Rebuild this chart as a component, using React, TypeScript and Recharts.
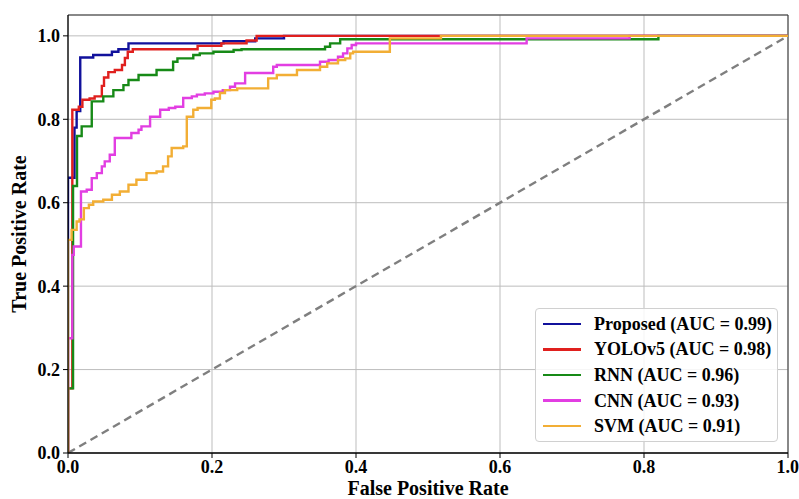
import React from 'react';
import { LineChart, Line, XAxis, YAxis, CartesianGrid, Legend, ReferenceLine } from 'recharts';

const xTicks = [0, 0.2, 0.4, 0.6, 0.8, 1.0];
const yTicks = [0, 0.2, 0.4, 0.6, 0.8, 1.0];

const proposedFpr = [0, 0, 0.009, 0.012, 0.017, 0.035, 0.061, 0.07, 0.084, 0.216, 0.26, 0.30, 1];
const proposedTpr = [0, 0.66, 0.78, 0.82, 0.948, 0.954, 0.962, 0.968, 0.982, 0.987, 0.994, 1, 1];

const yoloFpr = [0, 0, 0.006, 0.015, 0.02, 0.03, 0.037, 0.047, 0.05, 0.056, 0.065, 0.075, 0.079, 0.083, 0.09, 0.18, 0.213, 0.248, 0.262, 1];
const yoloTpr = [0, 0.155, 0.823, 0.83, 0.847, 0.85, 0.855, 0.88, 0.9, 0.913, 0.918, 0.93, 0.947, 0.962, 0.968, 0.976, 0.982, 0.989, 1, 1];

const rnnFpr = [0, 0, 0.007, 0.0125, 0.019, 0.033, 0.049, 0.063, 0.077, 0.084, 0.098, 0.123, 0.146, 0.152, 0.174, 0.183, 0.202, 0.23, 0.241, 0.357, 0.364, 0.378, 0.82, 1];
const rnnTpr = [0, 0.155, 0.64, 0.76, 0.783, 0.843, 0.855, 0.87, 0.882, 0.894, 0.906, 0.918, 0.938, 0.946, 0.954, 0.958, 0.962, 0.966, 0.968, 0.974, 0.982, 0.992, 1, 1];

const cnnFpr = [0, 0, 0.006, 0.008, 0.018, 0.026, 0.033, 0.04, 0.047, 0.051, 0.058, 0.065, 0.088, 0.098, 0.102, 0.114, 0.128, 0.14, 0.149, 0.16, 0.172, 0.179, 0.19, 0.202, 0.215, 0.225, 0.232, 0.246, 0.285, 0.29, 0.35, 0.362, 0.375, 0.382, 0.388, 0.394, 0.4, 0.637, 0.78, 1];
const cnnTpr = [0, 0.275, 0.475, 0.495, 0.627, 0.631, 0.659, 0.671, 0.687, 0.699, 0.715, 0.755, 0.767, 0.775, 0.783, 0.806, 0.823, 0.827, 0.83, 0.851, 0.855, 0.859, 0.862, 0.866, 0.87, 0.878, 0.886, 0.911, 0.926, 0.93, 0.938, 0.942, 0.95, 0.958, 0.97, 0.978, 0.982, 0.994, 1, 1];

const svmFpr = [0, 0, 0.005, 0.012, 0.016, 0.022, 0.029, 0.035, 0.049, 0.061, 0.072, 0.084, 0.095, 0.109, 0.123, 0.132, 0.139, 0.144, 0.16, 0.165, 0.174, 0.18, 0.199, 0.204, 0.211, 0.218, 0.235, 0.278, 0.29, 0.318, 0.35, 0.36, 0.375, 0.385, 0.392, 0.396, 0.447, 0.518, 1];
const svmTpr = [0, 0.511, 0.535, 0.555, 0.56, 0.587, 0.595, 0.603, 0.607, 0.619, 0.627, 0.643, 0.655, 0.671, 0.675, 0.687, 0.711, 0.731, 0.735, 0.806, 0.823, 0.827, 0.847, 0.85, 0.863, 0.87, 0.874, 0.898, 0.906, 0.918, 0.926, 0.934, 0.942, 0.946, 0.958, 0.962, 0.994, 1, 1];

const diagFpr = [0, 1];
const diagTpr = [0, 1];

const toPoints = (xs: number[], ys: number[]) => xs.map((x, i) => ({ x, y: ys[i] }));

const series = [
  { name: 'Proposed (AUC = 0.99)', color: '#11119c', data: toPoints(proposedFpr, proposedTpr) },
  { name: 'YOLOv5 (AUC = 0.98)', color: '#e0201e', data: toPoints(yoloFpr, yoloTpr) },
  { name: 'RNN (AUC = 0.96)', color: '#178a17', data: toPoints(rnnFpr, rnnTpr) },
  { name: 'CNN (AUC = 0.93)', color: '#e23ee2', data: toPoints(cnnFpr, cnnTpr) },
  { name: 'SVM (AUC = 0.91)', color: '#f2ae35', data: toPoints(svmFpr, svmTpr) },
];

const FONT = '"Liberation Serif", "Times New Roman", serif';
const tickStyle = { fill: '#000', fontSize: 18, fontWeight: 'bold' as const, fontFamily: FONT };

const LegendBox = () => (
  <div
    style={{
      boxSizing: 'border-box',
      width: 243,
      height: 134,
      border: '1px solid #d0d0d0',
      borderRadius: 4,
      background: 'rgba(255,255,255,0.85)',
      paddingTop: 2,
      fontFamily: FONT,
      fontWeight: 'bold',
      fontSize: 18,
      color: '#000',
    }}
  >
    {series.map((s) => (
      <div key={s.name} style={{ display: 'flex', alignItems: 'center', height: 25.6 }}>
        <div style={{ width: 38, height: 2.5, background: s.color, marginLeft: 7, marginRight: 13 }} />
        <span style={{ lineHeight: 1, whiteSpace: 'nowrap' }}>{s.name}</span>
      </div>
    ))}
  </div>
);

const YLabel = (props: any) => {
  const vb = props.viewBox || { x: 0, y: 15, width: 68, height: 438 };
  const cx = vb.x + 26;
  const cy = vb.y + vb.height / 2;
  return (
    <text
      x={cx}
      y={cy}
      transform={`rotate(-90, ${cx}, ${cy})`}
      textAnchor="middle"
      fill="#000"
      fontSize={20}
      fontWeight="bold"
      fontFamily={FONT}
    >
      True Positive Rate
    </text>
  );
};

export default function App() {
  return (
    <div style={{ position: 'absolute', left: 0, top: 0, background: '#fff' }}>
      <LineChart width={799} height={499} margin={{ top: 15, right: 11, left: 0, bottom: 0 }}>
        <CartesianGrid stroke="#bdbdbd" strokeWidth={1} />
        <XAxis
          type="number"
          dataKey="x"
          domain={[0, 1]}
          ticks={xTicks}
          allowDataOverflow
          height={46}
          tickFormatter={(v: number) => v.toFixed(1)}
          tick={tickStyle}
          tickSize={5}
          tickMargin={2}
          axisLine={{ stroke: '#000', strokeWidth: 1.3 }}
          tickLine={{ stroke: '#000' }}
          label={{ value: 'False Positive Rate', position: 'insideBottom', offset: 4, fill: '#000', fontSize: 20, fontWeight: 'bold', fontFamily: FONT }}
        />
        <YAxis
          type="number"
          dataKey="y"
          domain={[0, 1.05]}
          ticks={yTicks}
          allowDataOverflow
          width={68}
          tickFormatter={(v: number) => v.toFixed(1)}
          tick={tickStyle}
          tickSize={5}
          tickMargin={3}
          axisLine={{ stroke: '#000', strokeWidth: 1.3 }}
          tickLine={{ stroke: '#000' }}
          label={<YLabel />}
        />
        <ReferenceLine y={1.05} stroke="#333" strokeWidth={1} />
        <ReferenceLine x={1} stroke="#333" strokeWidth={1} />
        <Line
          data={toPoints(diagFpr, diagTpr)}
          dataKey="y"
          type="linear"
          stroke="#7f7f7f"
          strokeWidth={2.4}
          strokeDasharray="8 5"
          dot={false}
          activeDot={false}
          isAnimationActive={false}
          legendType="none"
        />
        {series.map((s) => (
          <Line
            key={s.name}
            name={s.name}
            data={s.data}
            dataKey="y"
            type="stepAfter"
            stroke={s.color}
            strokeWidth={2.4}
            dot={false}
            activeDot={false}
            isAnimationActive={false}
          />
        ))}
        <Legend
          layout="vertical"
          align="center"
          verticalAlign="middle"
          content={() => <LegendBox />}
          wrapperStyle={{ left: 535, top: 308, width: 243, height: 134 }}
        />
      </LineChart>
    </div>
  );
}
